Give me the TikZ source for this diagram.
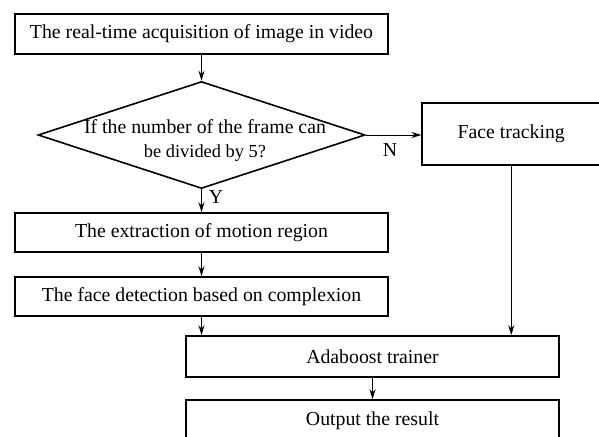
\documentclass[tikz,border=0pt]{standalone}
\usepackage{fontspec}
\setmainfont{Liberation Serif}
\usetikzlibrary{shapes.geometric,arrows.meta}

\tikzset{
  stepbox/.style={draw, line width=0.8pt, rectangle, inner sep=0pt},
  flow/.style={-{Stealth[length=5pt,width=3pt]}, line width=0.5pt}
}

\begin{document}
\begin{tikzpicture}[x=0.5pt, y=-0.5pt, font=\fontsize{9.9}{11}\selectfont]
    \clip (0,0) rectangle (599,436);

    % the boxes of the chart
    \node[stepbox, minimum width=186.5pt, minimum height=20pt] (acq) at (201.5,34) {The real-time acquisition of image in video};
    \node[draw, line width=0.8pt, diamond, inner sep=0pt, minimum width=163.5pt, minimum height=53.5pt] (test) at (201.5,135) {};
    \node[align=center] (testtext) at (205,141) {If the number of the frame can\\[1pt]{\fontsize{9.2}{10}\selectfont be divided by 5?}};
    \node[stepbox, minimum width=89pt, minimum height=31pt] (track) at (511.25,134) {Face tracking};
    \node[stepbox, minimum width=186.5pt, minimum height=19.5pt] (motion) at (201.5,232.5) {The extraction of motion region};
    \node[stepbox, minimum width=186.5pt, minimum height=19.5pt] (skin) at (201.5,296.5) {The face detection based on complexion};
    \node[stepbox, minimum width=186.5pt, minimum height=20.5pt] (ada) at (372.5,356.5) {Adaboost trainer};
    \node[stepbox, minimum width=186.5pt, minimum height=20.5pt] (result) at (372.5,420.5) {Output the result};

    % the labels of the two branches
    \node (yes) at (216,197) {Y};
    \node (no) at (390,150) {N};

    % draw the arrows
    \draw[flow] (acq) -- (test);
    \draw[flow] (test.east) -- (test.east -| track.west);
    \draw[flow] (test) -- (motion);
    \draw[flow] (motion) -- (skin);
    \draw[flow] (skin.south) -- (skin.south |- ada.north);
    \draw[flow] (track.south) -- (track.south |- ada.north);
    \draw[flow] (ada) -- (result);

\end{tikzpicture}
\end{document}
